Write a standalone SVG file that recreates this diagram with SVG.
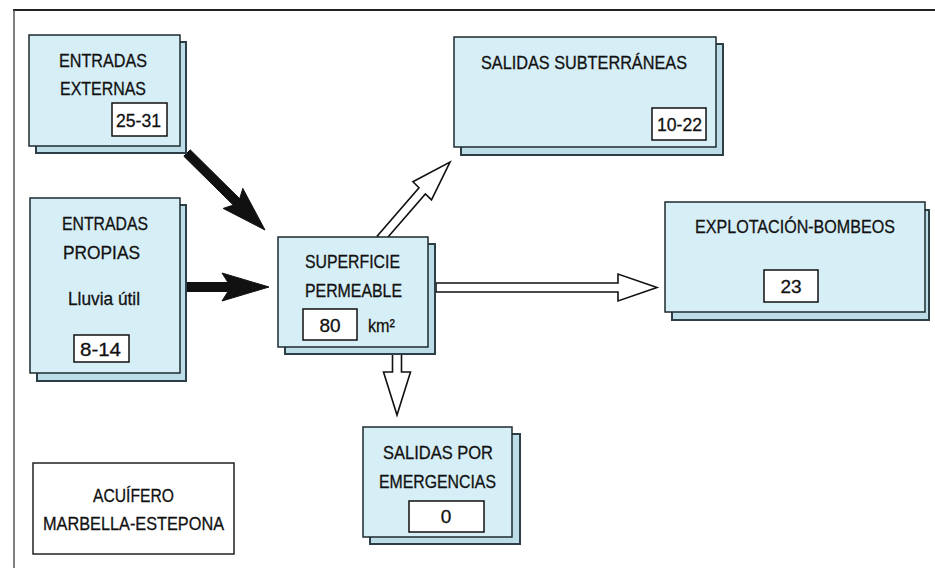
<svg xmlns="http://www.w3.org/2000/svg" width="935" height="568" viewBox="0 0 935 568">
<style>
.bg{fill:#ffffff}
.frame{stroke:#222;fill:none}
.front{fill:#d6eef5;stroke:#1e2a2e;stroke-width:1.5}
.back{fill:#bcdde8;stroke:#2c3e46;stroke-width:2}
.val{fill:#ffffff;stroke:#111;stroke-width:1.5}
.plain{fill:#ffffff;stroke:#222;stroke-width:1.5}
.t{font-family:"Liberation Sans",Arial,sans-serif;font-size:19px;fill:#111;stroke:#111;stroke-width:0.3}
.m{text-anchor:middle}
.solid{fill:#111;stroke:#111;stroke-width:1;stroke-linejoin:miter}
.hollow{fill:#ffffff;stroke:#111;stroke-width:1.6;stroke-linejoin:miter}
</style>
<rect class="bg" x="0" y="0" width="935" height="568"/>
<g id="frame">
<line class="frame" x1="13" y1="10" x2="935" y2="10" stroke-width="2"/>
<line class="frame" x1="14" y1="10" x2="14" y2="568" stroke-width="1.5" style="stroke:#555"/>
</g>
<g id="connectors">
<polygon class="solid" points="190.2,149.8 239.7,198.7 242.8,188.4 265,230 223.2,208.4 233.3,205.1 183.8,156.2"/>
<polygon class="solid" points="186,282.5 228,282.5 222,273 269,287 222,301 228,291.5 186,291.5"/>
<polygon class="hollow" points="383.7,242.1 425.4,193.9 431.5,199.8 450,162 412.9,181.8 419,187.7 377.3,235.9"/>
<polygon class="hollow" points="436,283 618,283 618,274 657,287.5 618,301 618,292 436,292"/>
<polygon class="hollow" points="392.5,350 392.5,372 383.5,372 397,415 410.5,372 401.5,372 401.5,350"/>
</g>
<g id="entradas-externas">
<rect class="back" x="36" y="42" width="150" height="111"/>
<rect class="front" x="29" y="35" width="151" height="111"/>
<text class="t" x="59" y="67" textLength="88" lengthAdjust="spacingAndGlyphs">ENTRADAS</text>
<text class="t" x="60" y="95" textLength="86" lengthAdjust="spacingAndGlyphs">EXTERNAS</text>
<rect class="val" x="112" y="103" width="55" height="33"/>
<text class="t" x="116" y="127" textLength="45" lengthAdjust="spacingAndGlyphs">25-31</text>
</g>
<g id="entradas-propias">
<rect class="back" x="37" y="205" width="149" height="176"/>
<rect class="front" x="30" y="198" width="150" height="175"/>
<text class="t" x="62" y="230" textLength="86" lengthAdjust="spacingAndGlyphs">ENTRADAS</text>
<text class="t" x="63" y="259" textLength="77" lengthAdjust="spacingAndGlyphs">PROPIAS</text>
<text class="t" x="68" y="305" textLength="72" lengthAdjust="spacingAndGlyphs">Lluvia útil</text>
<rect class="val" x="74" y="335" width="55" height="27"/>
<text class="t" x="80" y="356" textLength="41" lengthAdjust="spacingAndGlyphs">8-14</text>
</g>
<g id="superficie-permeable">
<rect class="back" x="285" y="244" width="150" height="110"/>
<rect class="front" x="278" y="237" width="150" height="110"/>
<text class="t" x="305" y="268" textLength="95" lengthAdjust="spacingAndGlyphs">SUPERFICIE</text>
<text class="t" x="305" y="297" textLength="97" lengthAdjust="spacingAndGlyphs">PERMEABLE</text>
<rect class="val" x="303" y="309" width="54" height="31"/>
<text class="t m" x="330" y="332">80</text>
<text class="t" x="368" y="332" textLength="27" lengthAdjust="spacingAndGlyphs">km²</text>
</g>
<g id="salidas-subterraneas">
<rect class="back" x="461" y="44" width="262" height="111"/>
<rect class="front" x="454" y="37" width="262" height="110"/>
<text class="t" x="481" y="69" textLength="206" lengthAdjust="spacingAndGlyphs">SALIDAS SUBTERRÁNEAS</text>
<rect class="val" x="652" y="108" width="54" height="32"/>
<text class="t" x="657" y="131" textLength="45" lengthAdjust="spacingAndGlyphs">10-22</text>
</g>
<g id="explotacion-bombeos">
<rect class="back" x="672" y="210" width="257" height="110"/>
<rect class="front" x="665" y="202" width="260" height="110"/>
<text class="t" x="695" y="233" textLength="200" lengthAdjust="spacingAndGlyphs">EXPLOTACIÓN-BOMBEOS</text>
<rect class="val" x="764" y="270" width="54" height="32"/>
<text class="t m" x="791" y="293">23</text>
</g>
<g id="salidas-emergencias">
<rect class="back" x="370" y="434" width="150" height="110"/>
<rect class="front" x="363" y="427" width="149" height="110"/>
<text class="t" x="383" y="459" textLength="110" lengthAdjust="spacingAndGlyphs">SALIDAS POR</text>
<text class="t" x="379" y="488" textLength="117" lengthAdjust="spacingAndGlyphs">EMERGENCIAS</text>
<rect class="val" x="409" y="501" width="75" height="31"/>
<text class="t m" x="446" y="523">0</text>
</g>
<g id="acuifero">
<rect class="plain" x="33" y="463" width="201" height="91"/>
<text class="t" x="93" y="502" textLength="81" lengthAdjust="spacingAndGlyphs">ACUÍFERO</text>
<text class="t" x="43" y="530" textLength="181" lengthAdjust="spacingAndGlyphs">MARBELLA-ESTEPONA</text>
</g>
</svg>
